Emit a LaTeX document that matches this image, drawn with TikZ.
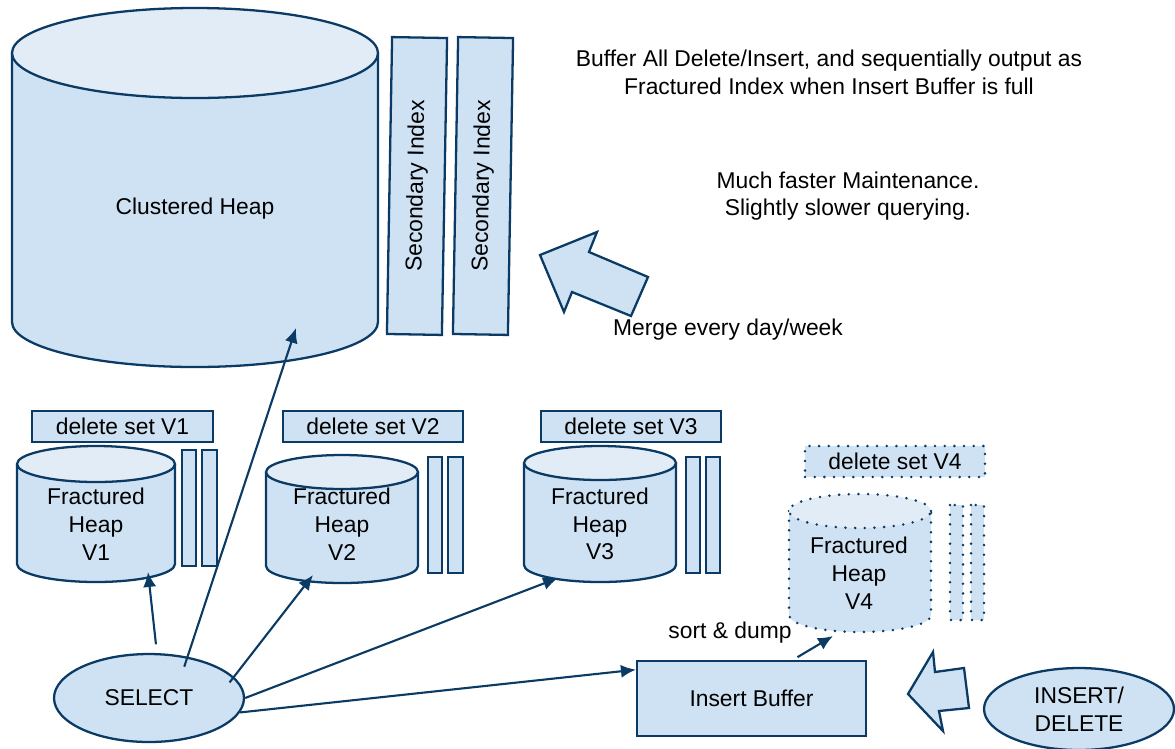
\documentclass[tikz,border=0pt]{standalone}
\usepackage{fontspec}
\setmainfont{Liberation Sans}
\usetikzlibrary{arrows.meta}
\usetikzlibrary{shapes.geometric}
\definecolor{mnavy}{HTML}{0B3B65}
\definecolor{mfill}{HTML}{CFE2F3}
\definecolor{mtop}{HTML}{E2ECF7}
\tikzset{shp/.style = {draw=mnavy, line width=1.3pt, fill=mfill}}
\tikzset{dots/.style = {draw=mnavy, line width=1.6pt, fill=mfill, line cap=round,
                        dash pattern=on 0pt off 5.5pt}}
\tikzset{lbl/.style = {font=\fontsize{13}{15.8}\selectfont, align=center, inner sep=0}}
\tikzset{conn/.style = {draw=mnavy, line width=1.2pt, -{Latex[length=8.5pt, width=7.5pt]}}}
\newcommand{\drum}[6][shp]{%
  \filldraw[#1] (#2-#5, #3) -- (#2-#5, #4)
    arc[start angle=180, end angle=360, x radius=#5, y radius=#6] -- (#2+#5, #3);
  \filldraw[#1, fill=mtop] (#2, #3) ellipse [x radius=#5, y radius=#6];
}

\begin{document}
\begin{tikzpicture}[x=0.02cm, y=0.02cm]
    \useasboundingbox (0, 0) rectangle (1175, -748);

    \drum{195}{-53}{-322}{183}{45}
    \node [lbl] (heap) at (195, -209) {Clustered Heap};
    \node [shp, lbl, rotate=89, minimum width=5.94cm, minimum height=1.1cm] (sec1) at (417, -186) {Secondary Index};
    \node [shp, lbl, rotate=89, minimum width=5.94cm, minimum height=1.1cm] (sec2) at (483, -186) {Secondary Index};

    \node [lbl] (note1) at (829, -72) {Buffer All Delete/Insert, and sequentially output as\\Fractured Index when Insert Buffer is full};
    \node [lbl] (note2) at (848, -196) {Much faster Maintenance.\\Slightly slower querying.};

    \filldraw [shp] (540, -255) -- (597, -232) -- (589, -252) -- (648, -277) -- (631, -316) -- (572, -292) -- (564, -312) -- cycle;
    \node [lbl] (merge) at (728, -330) {Merge every day/week};

    \node [shp, lbl, minimum width=3.62cm, minimum height=0.62cm] (del1) at (122.5, -426.5) {delete set V1};
    \drum{96}{-464}{-564}{79}{18}
    \node [lbl] (fh1) at (96, -524) {Fractured\\Heap\\V1};
    \draw [shp] (182, -450) rectangle (196, -566);
    \draw [shp] (202, -450) rectangle (217, -566);

    \node [shp, lbl, minimum width=3.6cm, minimum height=0.62cm] (del2) at (373, -426.5) {delete set V2};
    \drum{342}{-472}{-566}{76}{17}
    \node [lbl] (fh2) at (342, -524) {Fractured\\Heap\\V2};
    \draw [shp] (428, -457) rectangle (442, -573);
    \draw [shp] (448, -457) rectangle (463, -573);

    \node [shp, lbl, minimum width=3.6cm, minimum height=0.62cm] (del3) at (631, -426.5) {delete set V3};
    \drum{600}{-463}{-565}{76}{17}
    \node [lbl] (fh3) at (600, -524) {Fractured\\Heap\\V3};
    \draw [shp] (686, -457) rectangle (700, -573);
    \draw [shp] (706, -457) rectangle (720, -573);

    \node [dots, lbl, minimum width=3.6cm, minimum height=0.62cm] (del4) at (895, -461.5) {delete set V4};
    \drum[dots]{860}{-511}{-615}{71}{17}
    \node [lbl] (fh4) at (859, -573) {Fractured\\Heap\\V4};
    \draw [dots] (950, -505) rectangle (963, -620);
    \draw [dots] (971, -505) rectangle (984, -620);

    \node [shp, lbl, ellipse, minimum width=3.8cm, minimum height=1.76cm] (select) at (149, -698) {SELECT};
    \node [shp, lbl, minimum width=4.58cm, minimum height=1.5cm] (buffer) at (751.5, -698.5) {Insert Buffer};
    \node [shp, lbl, ellipse, minimum width=3.8cm, minimum height=1.64cm] (source) at (1079, -709) {INSERT/\\DELETE};
    \filldraw [shp] (908, -694) -- (933, -652) -- (935, -672) -- (964, -668) -- (969, -708) -- (939, -711) -- (943, -731) -- cycle;
    \node [lbl] (sort) at (730, -633) {sort \& dump};

    \coordinate (heap base) at (296, -328);
    \coordinate (fh1 base) at (148, -572);
    \coordinate (fh2 base) at (313, -575);
    \coordinate (fh3 base) at (558, -578);
    \coordinate (fh4 base) at (833, -636);

    \draw [conn, shorten <=5pt] (select.80) -- (fh1 base);
    \draw [conn, shorten <=-6pt] (select.47) -- (heap base);
    \draw [conn, shorten <=-4pt] (select.14) -- (fh2 base);
    \draw [conn] (select.east) -- (fh3 base);
    \draw [conn] (select.351) -- (buffer.166);
    \draw [conn, shorten <=3pt] (buffer.43.5) -- (fh4 base);
  \end{tikzpicture}
\end{document}
